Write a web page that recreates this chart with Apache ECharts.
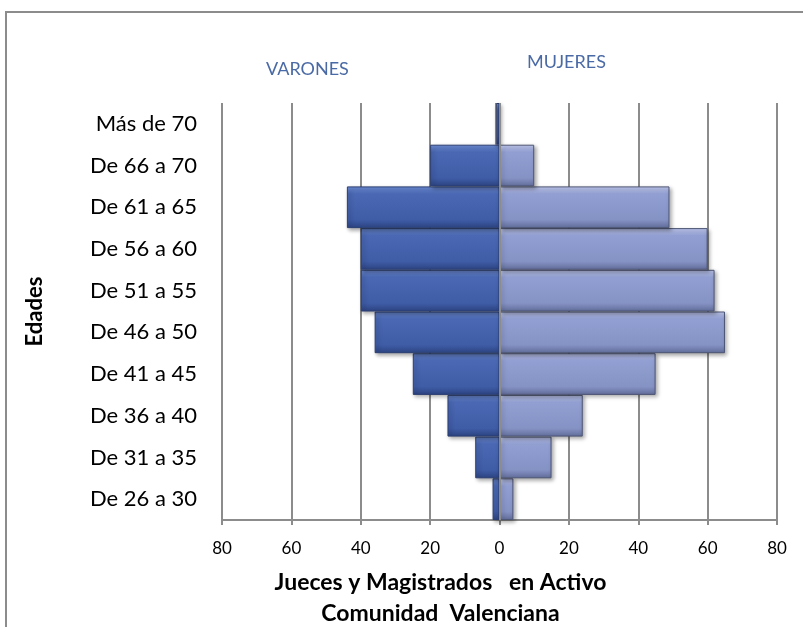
<!DOCTYPE html>
<html><head><meta charset="utf-8">
<script src="https://cdn.jsdelivr.net/npm/echarts@6/dist/echarts.min.js"></script>
<style>html,body{margin:0;padding:0;background:#fff}#c{width:803px;height:627px}</style>
</head><body><div id="c"></div>
<script>
const categories = ['De 26 a 30','De 31 a 35','De 36 a 40','De 41 a 45','De 46 a 50','De 51 a 55','De 56 a 60','De 61 a 65','De 66 a 70','Más de 70'];
const varones = [2, 7, 15, 25, 36, 40, 40, 44, 20, 1];
const mujeres = [4, 15, 24, 45, 65, 62, 60, 49, 10, 0];
const xTicks = {min: -80, max: 80, interval: 20};

const font = 'Lato, "Open Sans", sans-serif';
const chart = echarts.init(document.getElementById('c'));
const grad = (a,b,c,d) => new echarts.graphic.LinearGradient(0,0,0,1,[
  {offset:0,color:a},{offset:0.18,color:b},{offset:0.8,color:c},{offset:1,color:d}]);
chart.setOption({
  animation:false,
  graphic:[
    {type:'rect',shape:{x:6,y:12,width:830,height:700},style:{fill:'none',stroke:'#8c8c8c',lineWidth:2}},
    {type:'text',left:266,top:60,style:{text:'VARONES',fill:'#4a6aa6',font:'18px '+font}},
    {type:'text',left:527,top:53,style:{text:'MUJERES',fill:'#4a6aa6',font:'18px '+font}}
  ],
  grid:{left:222,right:26,top:103,bottom:107,outerBoundsMode:'none',containLabel:false},
  xAxis:{type:'value',min:xTicks.min,max:xTicks.max,interval:xTicks.interval,
    axisLabel:{formatter:v=>Math.abs(v),color:'#000',fontSize:17,fontFamily:font,margin:20},
    axisLine:{show:true,lineStyle:{color:'#8c8c8c',width:2}},
    axisTick:{show:true,length:5,lineStyle:{color:'#8c8c8c',width:2}},
    splitLine:{show:true,lineStyle:{color:'#8c8c8c',width:2}},
    name:'Jueces y Magistrados   en Activo\nComunidad  Valenciana',nameLocation:'middle',nameGap:47,
    nameTextStyle:{color:'#000',fontWeight:'bold',fontSize:23,fontFamily:font,lineHeight:31,padding:[0,118,0,0]}},
  yAxis:{type:'category',data:categories,
    axisLine:{show:false},axisTick:{show:false},
    axisLabel:{color:'#000',fontSize:22,fontFamily:font,margin:25},
    name:'Edades',nameLocation:'middle',nameGap:176,nameRotate:90,
    nameTextStyle:{color:'#000',fontWeight:'bold',fontSize:22,fontFamily:font}},
  series:[
    {name:'Varones',type:'bar',stack:'s',barCategoryGap:'0%',data:varones.map(v=>-v),
      itemStyle:{color:grad('#6f8fd8','#4a68b4','#3f5ca6','#2c4482'),borderColor:'#2c3f73',borderWidth:1,
        shadowColor:'rgba(0,0,0,0.35)',shadowBlur:4,shadowOffsetX:2,shadowOffsetY:2},
      markLine:{silent:true,symbol:'none',label:{show:false},lineStyle:{color:'#8c8c8c',width:2,type:'solid'},data:[{xAxis:0}]}},
    {name:'Mujeres',type:'bar',stack:'s',barCategoryGap:'0%',data:mujeres,
      itemStyle:{color:grad('#c3ccf2','#929fd2','#8592c4','#626d9a'),borderColor:'#4e5675',borderWidth:1,
        shadowColor:'rgba(0,0,0,0.35)',shadowBlur:4,shadowOffsetX:2,shadowOffsetY:2}}
  ]
});
</script></body></html>
